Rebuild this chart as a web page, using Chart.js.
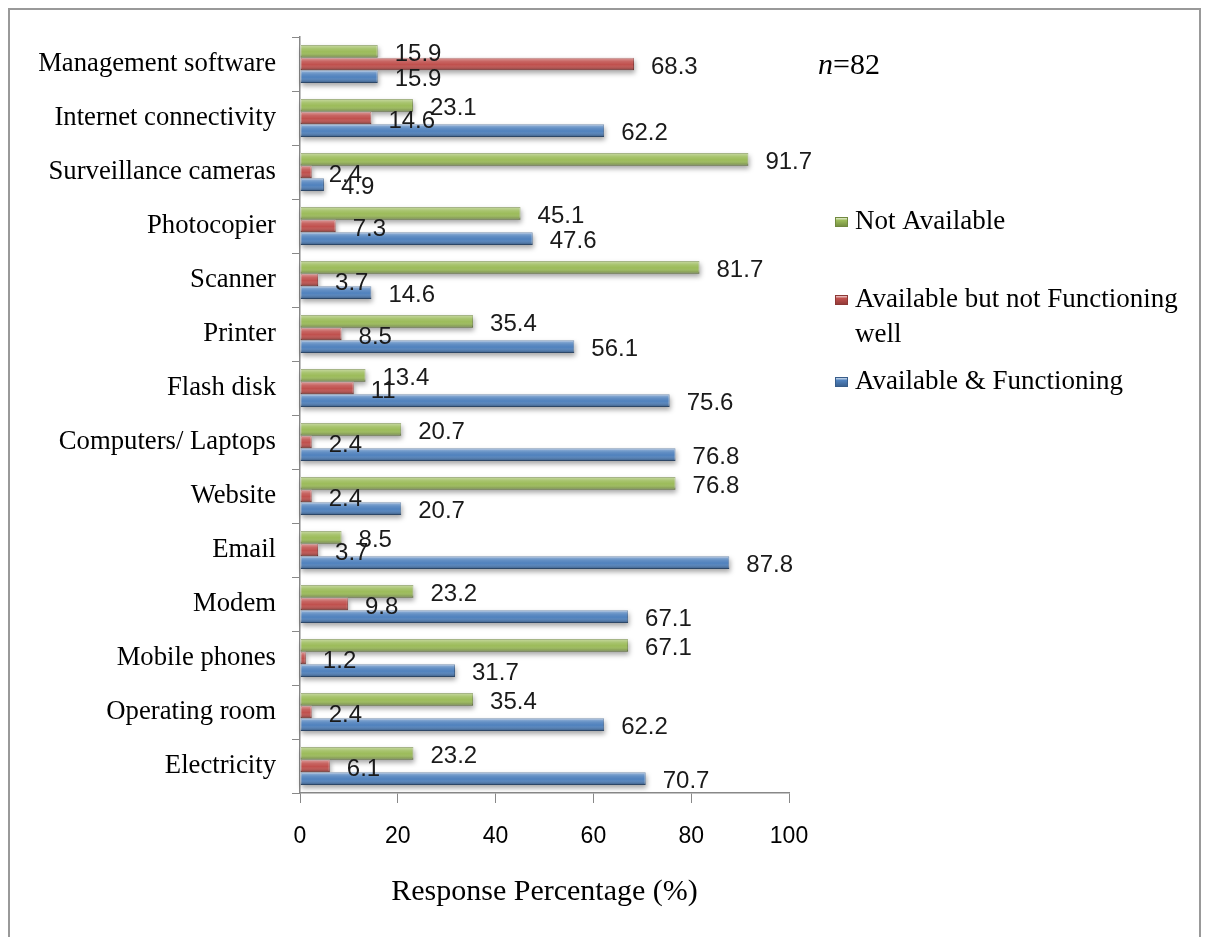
<!DOCTYPE html>
<html>
<head>
<meta charset="utf-8">
<script src="https://cdn.jsdelivr.net/npm/chart.js@4/dist/chart.umd.min.js"></script>
<style>
  html, body { margin: 0; padding: 0; background: #fff; }
  canvas { display: block; }
</style>
</head>
<body>
<canvas id="barChart" width="1209" height="937"></canvas>
<script>
// values, top row first
const categories = ["Management software", "Internet connectivity", "Surveillance cameras", "Photocopier",
  "Scanner", "Printer", "Flash disk", "Computers/ Laptops", "Website", "Email", "Modem",
  "Mobile phones", "Operating room", "Electricity"];
const notAvailable   = [15.9, 23.1, 91.7, 45.1, 81.7, 35.4, 13.4, 20.7, 76.8, 8.5, 23.2, 67.1, 35.4, 23.2];
const notFunctioning = [68.3, 14.6, 2.4, 7.3, 3.7, 8.5, 11, 2.4, 2.4, 3.7, 9.8, 1.2, 2.4, 6.1];
const functioning    = [15.9, 62.2, 4.9, 47.6, 14.6, 56.1, 75.6, 76.8, 20.7, 87.8, 67.1, 31.7, 62.2, 70.7];
const seriesNames = ["Not Available", "Available but not Functioning well", "Available & Functioning"];
const xMin = 0, xMax = 100, xStep = 20;

const FILL = ["#9BBB59", "#C0504D", "#4F81BD"];
const EDGE = ["#71893F", "#8C3836", "#385D8A"];
const SERIF = "'Liberation Serif', 'Times New Roman', serif";
const SANS = "'Liberation Sans', Arial, sans-serif";

// soft shadow under each bar
const barShadow = {
  id: 'barShadow',
  beforeDatasetsDraw(chart) {
    const ctx = chart.ctx;
    ctx.save();
    ctx.shadowColor = 'rgba(0,0,0,0.35)';
    ctx.shadowBlur = 5;
    ctx.shadowOffsetY = 3;
    ctx.shadowOffsetX = 1;
    ctx.fillStyle = '#fff';
    chart.data.datasets.forEach((ds, i) => {
      chart.getDatasetMeta(i).data.forEach(bar => {
        const left = Math.min(bar.base, bar.x);
        ctx.fillRect(left, bar.y - bar.height / 2, Math.abs(bar.x - bar.base), bar.height);
      });
    });
    ctx.restore();
  }
};

// glossy cylinder look on top of the flat bars
const barShine = {
  id: 'barShine',
  afterDatasetsDraw(chart) {
    const ctx = chart.ctx;
    ctx.save();
    chart.data.datasets.forEach((ds, i) => {
      chart.getDatasetMeta(i).data.forEach(bar => {
        const top = bar.y - bar.height / 2;
        const h = bar.height;
        const left = Math.min(bar.base, bar.x);
        const w = Math.abs(bar.x - bar.base);
        const g = ctx.createLinearGradient(0, top, 0, top + h);
        g.addColorStop(0, 'rgba(255,255,255,0.45)');
        g.addColorStop(0.3, 'rgba(255,255,255,0.12)');
        g.addColorStop(0.55, 'rgba(255,255,255,0)');
        g.addColorStop(1, 'rgba(0,0,0,0.35)');
        ctx.fillStyle = g;
        ctx.fillRect(left, top, w, h);
      });
    });
    ctx.restore();
  }
};

// value labels after the bar ends
const valueLabels = {
  id: 'valueLabels',
  afterDatasetsDraw(chart) {
    const ctx = chart.ctx;
    ctx.save();
    ctx.font = '24px ' + SANS;
    ctx.fillStyle = '#1a1a1a';
    ctx.textAlign = 'left';
    ctx.textBaseline = 'middle';
    chart.data.datasets.forEach((ds, i) => {
      chart.getDatasetMeta(i).data.forEach((bar, j) => {
        ctx.fillText(String(ds.data[j]), bar.x + 17, bar.y + 3);
      });
    });
    ctx.restore();
  }
};

// frame, legend and n=82 note
const extras = {
  id: 'extras',
  afterDraw(chart) {
    const ctx = chart.ctx;
    ctx.save();
    ctx.strokeStyle = '#999';
    ctx.lineWidth = 2;
    ctx.beginPath();
    ctx.moveTo(9, 937); ctx.lineTo(9, 9); ctx.lineTo(1200, 9); ctx.lineTo(1200, 937);
    ctx.stroke();

    const legendRows = [
      { lines: [seriesNames[0]], y: 222 },
      { lines: ["Available but not Functioning", "well"], y: 300 },
      { lines: [seriesNames[2]], y: 382 }
    ];
    ctx.font = '27px ' + SERIF;
    ctx.textBaseline = 'middle';
    ctx.textAlign = 'left';
    legendRows.forEach((row, i) => {
      const g = ctx.createLinearGradient(0, row.y - 5, 0, row.y + 5);
      g.addColorStop(0, '#fff');
      g.addColorStop(0.35, FILL[i]);
      g.addColorStop(1, EDGE[i]);
      ctx.fillStyle = g;
      ctx.fillRect(835, row.y - 5, 12, 9);
      ctx.strokeStyle = EDGE[i];
      ctx.lineWidth = 1;
      ctx.strokeRect(835.5, row.y - 4.5, 12, 9);
      ctx.fillStyle = '#000';
      row.lines.forEach((t, k) => ctx.fillText(t, 855, row.y + k * 35));
    });

    ctx.font = 'italic 30px ' + SERIF;
    ctx.fillText('n', 818, 66);
    const nw = ctx.measureText('n').width;
    ctx.font = '30px ' + SERIF;
    ctx.fillText('=82', 818 + nw, 66);
    ctx.restore();
  }
};

const datasets = [notAvailable, notFunctioning, functioning].map((vals, i) => ({
  label: seriesNames[i],
  data: vals,
  backgroundColor: FILL[i],
  borderColor: EDGE[i],
  borderWidth: 1,
  borderSkipped: false,
  categoryPercentage: 0.7,
  barPercentage: 1.0
}));

new Chart(document.getElementById('barChart'), {
  type: 'bar',
  data: { labels: categories, datasets: datasets },
  options: {
    indexAxis: 'y',
    responsive: false,
    animation: false,
    layout: { padding: { left: 10, top: 37, right: 420, bottom: 0 } },
    plugins: {
      legend: { display: false },
      tooltip: { enabled: false }
    },
    scales: {
      y: {
        grid: { drawOnChartArea: false, tickLength: 8, color: '#888', offset: true },
        border: { color: '#888', width: 1.5 },
        ticks: { color: '#000', font: { family: SERIF, size: 26.7 }, padding: 16 },
        afterFit(s) { s.width = 290; }
      },
      x: {
        min: xMin,
        max: xMax,
        ticks: { stepSize: xStep, color: '#000', font: { family: SANS, size: 23 }, padding: 20 },
        grid: { drawOnChartArea: false, tickLength: 10, color: '#888' },
        border: { color: '#888', width: 1.5 },
        title: {
          display: true,
          text: 'Response Percentage (%)',
          color: '#000',
          font: { family: SERIF, size: 30 },
          padding: { top: 0, bottom: 27 }
        },
        afterFit(s) { s.height = 144; }
      }
    }
  },
  plugins: [barShadow, barShine, valueLabels, extras]
});
</script>
</body>
</html>
